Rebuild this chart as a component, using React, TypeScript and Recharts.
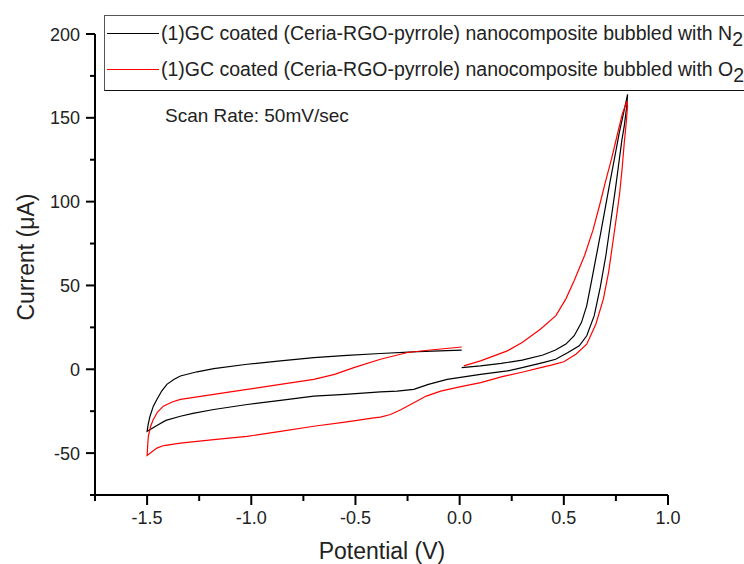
import { LineChart, Line, XAxis, YAxis } from 'recharts'

// N2 sweep: 0 V -> 0.8 V -> -1.5 V -> 0 V
const n2Potential = [
  0.01, 0.1, 0.2, 0.3, 0.4, 0.46, 0.51, 0.55, 0.585, 0.61, 0.632, 0.655, 0.678, 0.7, 0.722, 0.745, 0.766, 0.787, 0.806,
  0.803, 0.79, 0.779, 0.763, 0.747, 0.725, 0.702, 0.675, 0.646, 0.61, 0.574, 0.52, 0.461, 0.4, 0.3, 0.229, 0.1, -0.06, -0.15, -0.22, -0.3, -0.38, -0.55, -0.7, -0.86, -1.02, -1.18, -1.28, -1.34, -1.41, -1.453, -1.5,
  -1.495, -1.486, -1.47, -1.453, -1.43, -1.405, -1.37, -1.34, -1.26, -1.18, -1.02, -0.86, -0.7, -0.54, -0.38, -0.2, 0.01,
]
const n2Current = [
  1, 2, 3.5, 5.5, 8.5, 11.5, 15, 20, 28, 38, 52, 67, 82, 97, 112, 127, 141, 153, 164,
  158, 145, 137, 122, 107, 88, 68, 49, 32, 20, 14, 10, 6, 4, 1, -1, -3, -6, -9, -12, -13, -13.5, -15, -16, -18.5, -21, -24, -26.3, -28, -30.5, -33.5, -37,
  -33, -28, -22, -18, -13, -9, -6, -4, -1.5, 0.4, 3, 5, 7, 8.3, 9.4, 10.5, 11.4,
]

// O2 sweep
const o2Potential = [
  0.02, 0.1, 0.229, 0.3, 0.389, 0.462, 0.51, 0.55, 0.6, 0.64, 0.672, 0.7, 0.728, 0.755, 0.78, 0.803,
  0.806, 0.798, 0.79, 0.78, 0.768, 0.755, 0.738, 0.715, 0.69, 0.654, 0.61, 0.558, 0.5, 0.44, 0.389, 0.309, 0.2, 0.101, 0, -0.091, -0.16, -0.22, -0.28, -0.332, -0.38, -0.412, -0.55, -0.7, -0.86, -1.02, -1.18, -1.34, -1.42, -1.453, -1.5,
  -1.497, -1.494, -1.483, -1.47, -1.45, -1.422, -1.38, -1.34, -1.18, -1.02, -0.86, -0.7, -0.6, -0.508, -0.38, -0.25, -0.14, 0.01,
]
const o2Current = [
  2, 5, 11, 16, 24, 32, 42, 53, 68, 83, 98, 112, 125, 139, 152, 160,
  157, 145, 135, 120, 105, 93, 78, 58, 42, 27, 15, 9, 4.5, 2.5, 1, -1.5, -4.5, -8, -10.5, -13, -16, -20, -24, -27, -28.5, -29, -31.5, -34, -37, -40, -42, -44, -45.5, -47, -51.4,
  -45, -40, -34, -30, -25.5, -22, -19.5, -18, -15, -12, -9, -6, -3, 1, 6, 10, 11.5, 13.3,
]

const xTicks = [-1.75, -1.5, -1.25, -1.0, -0.75, -0.5, -0.25, 0, 0.25, 0.5, 0.75, 1.0]
const yTicks = [-75, -50, -25, 0, 25, 50, 75, 100, 125, 150, 175, 200]

const n2Data = n2Potential.map((x, i) => ({ x, y: n2Current[i] }))
const o2Data = o2Potential.map((x, i) => ({ x, y: o2Current[i] }))

const FONT = '"Liberation Sans", Arial, sans-serif'

function XTick({ x, y, payload }: any) {
  const v = payload.value
  const major = Math.abs(v * 2 - Math.round(v * 2)) < 1e-6
  return (
    <g>
      <line x1={x} x2={x} y1={y} y2={y + (major ? 10 : 6)} stroke="#000" strokeWidth={2} />
      {major && (
        <text x={x} y={y + 29} textAnchor="middle" fill="#222" fontSize={18} fontFamily={FONT}>
          {v.toFixed(1)}
        </text>
      )}
    </g>
  )
}

function YTick({ x, y, payload }: any) {
  const v = payload.value
  const major = v % 50 === 0
  return (
    <g>
      <line x1={x} x2={x - (major ? 9 : 5)} y1={y} y2={y} stroke="#000" strokeWidth={2} />
      {major && (
        <text x={x - 15} y={y + 6.5} textAnchor="end" fill="#222" fontSize={18} fontFamily={FONT}>
          {v}
        </text>
      )}
    </g>
  )
}

export default function App() {
  return (
    <div
      style={{
        position: 'absolute',
        left: 0,
        top: 0,
        width: 744,
        height: 564,
        overflow: 'hidden',
        background: '#fff',
        fontFamily: FONT,
        color: '#222',
      }}
    >
      <LineChart width={744} height={564} margin={{ top: 34, right: 76, bottom: 29, left: 35 }}>
        <XAxis
          type="number"
          dataKey="x"
          domain={[-1.75, 1.0]}
          ticks={xTicks}
          allowDataOverflow
          height={40}
          tickSize={0}
          tickMargin={0}
          tickLine={false}
          axisLine={{ stroke: '#000', strokeWidth: 2 }}
          tick={<XTick />}
          interval={0}
        />
        <YAxis
          type="number"
          dataKey="y"
          domain={[-75, 200]}
          ticks={yTicks}
          allowDataOverflow
          width={60}
          tickSize={0}
          tickMargin={0}
          tickLine={false}
          axisLine={{ stroke: '#000', strokeWidth: 2 }}
          tick={<YTick />}
          interval={0}
        />
        <Line
          data={n2Data}
          dataKey="y"
          type="linear"
          stroke="#000"
          strokeWidth={1.2}
          dot={false}
          isAnimationActive={false}
        />
        <Line
          data={o2Data}
          dataKey="y"
          type="linear"
          stroke="#ff0000"
          strokeWidth={1.2}
          dot={false}
          isAnimationActive={false}
        />
      </LineChart>

      {/* legend box */}
      <div
        style={{
          position: 'absolute',
          left: 104,
          top: 15,
          width: 700,
          height: 74,
          border: '1px solid #555',
          borderBottomColor: '#111',
          background: '#fff',
          fontSize: 19.5,
        }}
      >
        {[
          { color: '#000', gas: 'N' },
          { color: '#ff0000', gas: 'O' },
        ].map((r, i) => (
          <div
            key={i}
            style={{ position: 'absolute', left: 0, top: i === 0 ? 4 : 40, height: 26, display: 'flex', alignItems: 'center', whiteSpace: 'nowrap' }}
          >
            <span style={{ display: 'inline-block', marginLeft: 2, width: 52, height: 0, borderTop: `1.3px solid ${r.color}` }} />
            <span style={{ marginLeft: 2 }}>
              (1)GC coated (Ceria-RGO-pyrrole) nanocomposite bubbled with {r.gas}
              <span style={{ position: 'relative', top: 6 }}>2</span>
            </span>
          </div>
        ))}
      </div>

      <div style={{ position: 'absolute', left: 165, top: 105, fontSize: 19, whiteSpace: 'nowrap' }}>
        Scan Rate: 50mV/sec
      </div>

      <div
        style={{
          position: 'absolute',
          left: 382,
          top: 551,
          transform: 'translate(-50%, -50%)',
          fontSize: 23,
          whiteSpace: 'nowrap',
        }}
      >
        Potential (V)
      </div>

      <div
        style={{
          position: 'absolute',
          left: 26,
          top: 257,
          transform: 'translate(-50%, -50%) rotate(-90deg)',
          fontSize: 23,
          whiteSpace: 'nowrap',
        }}
      >
        Current (μA)
      </div>
    </div>
  )
}
